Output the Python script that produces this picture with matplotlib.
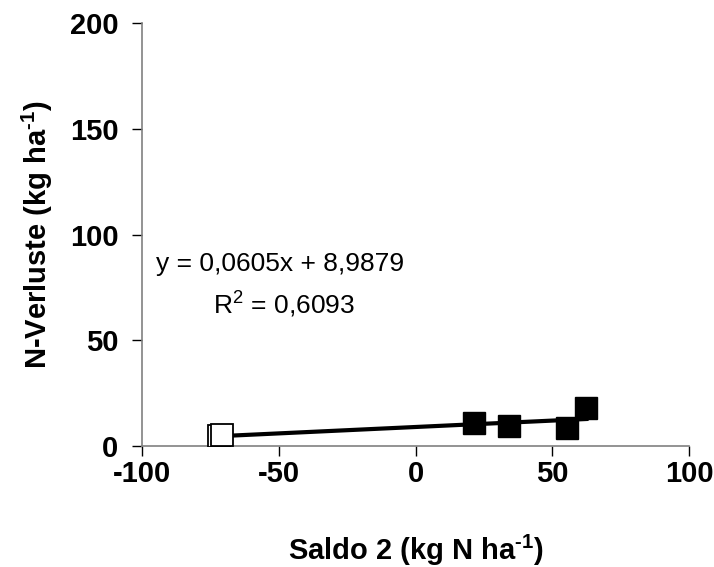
import numpy as np
import matplotlib
matplotlib.use("Agg")
import matplotlib.pyplot as plt

plt.rcParams['font.family'] = ['Liberation Sans', 'DejaVu Sans']
plt.rcParams['axes.unicode_minus'] = False
plt.rcParams['mathtext.fontset'] = 'custom'
plt.rcParams['mathtext.rm'] = 'Liberation Sans:bold'
plt.rcParams['mathtext.sf'] = 'Liberation Sans'

# data
open_x = [-72.0, -70.8]
open_y = [4.9, 5.0]
filled_x = [21.3, 34.3, 55.4, 62.5]
filled_y = [10.7, 9.3, 8.7, 17.8]

slope = 0.0605
intercept = 8.9879
r2 = 0.6093

xticks = [-100, -50, 0, 50, 100]
yticks = [0, 50, 100, 150, 200]

fig = plt.figure(figsize=(7.14, 5.67), dpi=100)
ax = fig.add_axes([0.199, 0.2134, 0.766, 0.746])

all_x = np.array(open_x + filled_x)
lx = np.array([all_x.min(), all_x.max()])
ax.plot(lx, slope*lx + intercept, color='black', lw=3, zorder=2)

ax.plot(open_x, open_y, 's', ms=16, mfc='white', mec='black', mew=1.3, zorder=3)
ax.plot(filled_x, filled_y, 's', ms=16, mfc='black', mec='black', zorder=3)

ax.set_xlim(-100, 100)
ax.set_ylim(0, 200)
ax.set_xticks(xticks)
ax.set_yticks(yticks)

for s in ['top', 'right']:
    ax.spines[s].set_visible(False)
for s in ['left', 'bottom']:
    ax.spines[s].set_color('#808080')
    ax.spines[s].set_linewidth(1.2)

ax.tick_params(direction='out', length=7, width=1, colors='black', labelsize=21)
ax.tick_params(axis='x', pad=3)
ax.tick_params(axis='y', pad=10)
for lab in ax.get_xticklabels() + ax.get_yticklabels():
    lab.set_fontweight('bold')

ax.set_xlabel('Saldo 2 (kg N ha$^{\\text{-}1}$)', fontsize=21, fontweight='bold', labelpad=32)
ax.set_ylabel('N-Verluste (kg ha$^{\\text{-}1}$)', fontsize=21, fontweight='bold', labelpad=11)

ax.text(-95, 86, 'y = 0,0605x + 8,9879', fontsize=19, va='center', ha='left')
ax.text(-74, 67.5, 'R$^{\\mathsf{2}}$ = ' + f'{r2:.4f}'.replace('.', ','), fontsize=19,
        va='center', ha='left')

fig.savefig('out.png', dpi=100)
